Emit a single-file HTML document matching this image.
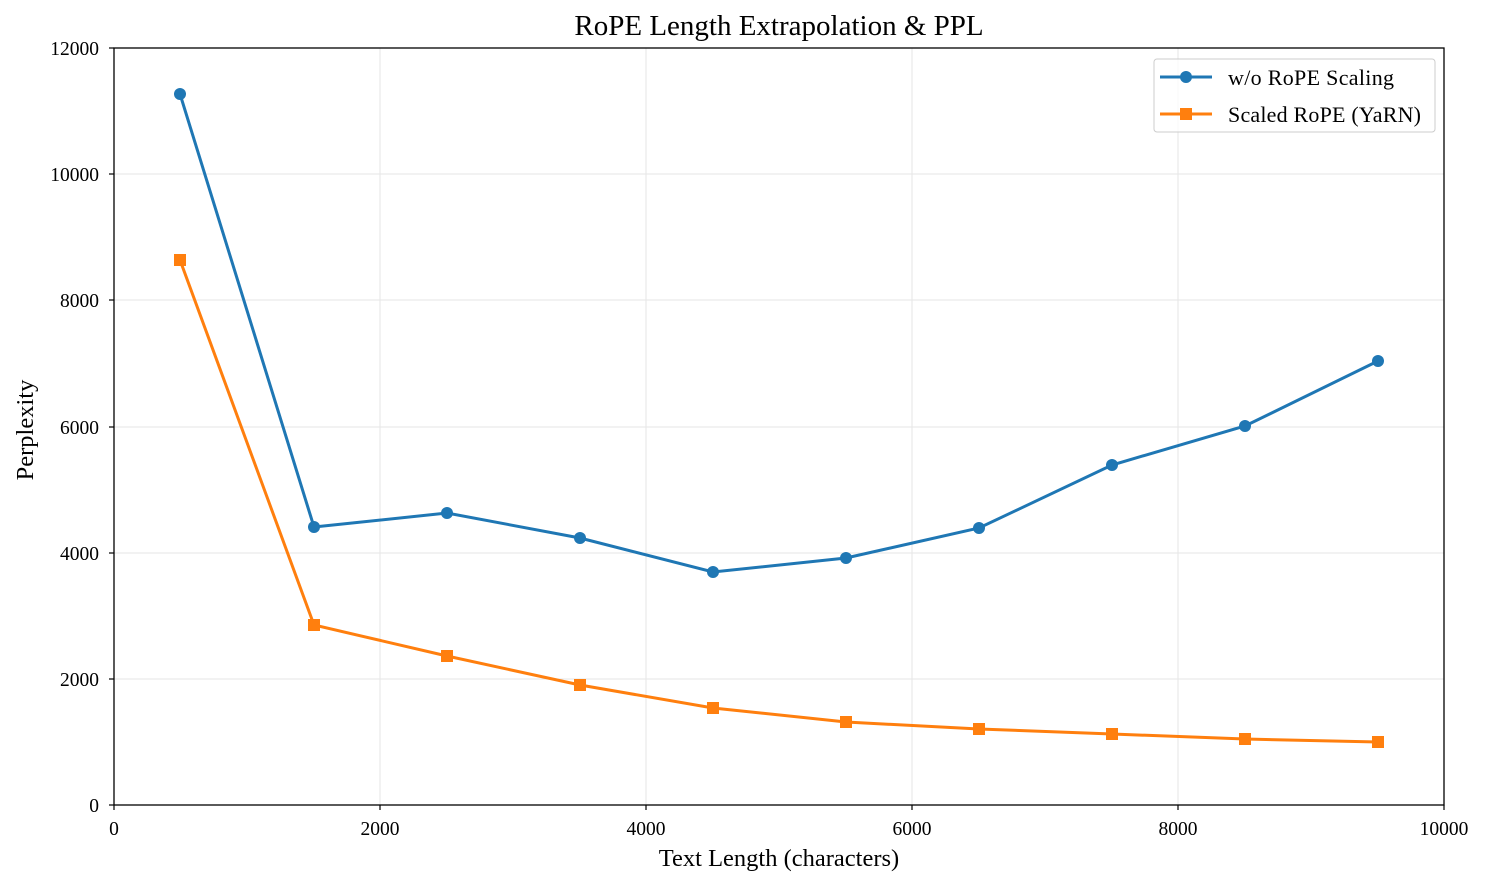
<!DOCTYPE html>
<html><head><style>body{margin:0;background:#fff}svg{display:block}text{font-family:"Liberation Serif",serif;fill:#000}</style></head><body>
<svg width="1486" height="887" viewBox="0 0 1486 887">
<g stroke="#e5e5e5" stroke-width="1">
<line x1="380" y1="48" x2="380" y2="805"/><line x1="646" y1="48" x2="646" y2="805"/><line x1="912" y1="48" x2="912" y2="805"/><line x1="1178" y1="48" x2="1178" y2="805"/>
<line x1="114" y1="679" x2="1444" y2="679"/><line x1="114" y1="553" x2="1444" y2="553"/><line x1="114" y1="427" x2="1444" y2="427"/><line x1="114" y1="300" x2="1444" y2="300"/><line x1="114" y1="174" x2="1444" y2="174"/>
</g>
<rect x="114" y="48" width="1330" height="757" fill="none" stroke="#000" stroke-width="1.3"/>
<g stroke="#000" stroke-width="1.2">
<line x1="114" y1="805" x2="114" y2="810"/><line x1="380" y1="805" x2="380" y2="810"/><line x1="646" y1="805" x2="646" y2="810"/><line x1="912" y1="805" x2="912" y2="810"/><line x1="1178" y1="805" x2="1178" y2="810"/><line x1="1444" y1="805" x2="1444" y2="810"/>
<line x1="109" y1="805" x2="114" y2="805"/><line x1="109" y1="679" x2="114" y2="679"/><line x1="109" y1="553" x2="114" y2="553"/><line x1="109" y1="427" x2="114" y2="427"/><line x1="109" y1="300" x2="114" y2="300"/><line x1="109" y1="174" x2="114" y2="174"/><line x1="109" y1="48" x2="114" y2="48"/>
</g>
<g font-size="19.5" text-anchor="middle">
<text x="114" y="835">0</text><text x="380" y="835">2000</text><text x="646" y="835">4000</text><text x="912" y="835">6000</text><text x="1178" y="835">8000</text><text x="1444" y="835">10000</text>
</g>
<g font-size="19.5" text-anchor="end">
<text x="99" y="812">0</text><text x="99" y="686">2000</text><text x="99" y="560">4000</text><text x="99" y="434">6000</text><text x="99" y="307">8000</text><text x="99" y="181">10000</text><text x="99" y="55">12000</text>
</g>
<text x="779" y="35" font-size="29" text-anchor="middle">RoPE Length Extrapolation &amp; PPL</text>
<text x="779" y="866" font-size="24.5" text-anchor="middle">Text Length (characters)</text>
<text transform="translate(33,430) rotate(-90)" font-size="24.5" text-anchor="middle">Perplexity</text>
<polyline fill="none" stroke="#1f77b4" stroke-width="3" points="180,94 314,527 447,513 580,538 713,572 846,558 979,528 1112,465 1245,426 1378,361"/>
<g fill="#1f77b4"><circle cx="180" cy="94" r="6"/><circle cx="314" cy="527" r="6"/><circle cx="447" cy="513" r="6"/><circle cx="580" cy="538" r="6"/><circle cx="713" cy="572" r="6"/><circle cx="846" cy="558" r="6"/><circle cx="979" cy="528" r="6"/><circle cx="1112" cy="465" r="6"/><circle cx="1245" cy="426" r="6"/><circle cx="1378" cy="361" r="6"/></g>
<polyline fill="none" stroke="#ff7f0e" stroke-width="3" points="180,260 314,625 447,656 580,685 713,708 846,722 979,729 1112,734 1245,739 1378,742"/>
<g fill="#ff7f0e"><rect x="174" y="254" width="12" height="12"/><rect x="308" y="619" width="12" height="12"/><rect x="441" y="650" width="12" height="12"/><rect x="574" y="679" width="12" height="12"/><rect x="707" y="702" width="12" height="12"/><rect x="840" y="716" width="12" height="12"/><rect x="973" y="723" width="12" height="12"/><rect x="1106" y="728" width="12" height="12"/><rect x="1239" y="733" width="12" height="12"/><rect x="1372" y="736" width="12" height="12"/></g>
<rect x="1154" y="59" width="281" height="73" rx="3" fill="#fff" fill-opacity="0.8" stroke="#ccc"/>
<line x1="1160" y1="77" x2="1212" y2="77" stroke="#1f77b4" stroke-width="3"/><circle cx="1186" cy="77" r="6" fill="#1f77b4"/>
<line x1="1160" y1="114" x2="1212" y2="114" stroke="#ff7f0e" stroke-width="3"/><rect x="1180" y="108" width="12" height="12" fill="#ff7f0e"/>
<text x="1228" y="85" font-size="22" textLength="166">w/o RoPE Scaling</text>
<text x="1228" y="122" font-size="22" textLength="193">Scaled RoPE (YaRN)</text>
</svg>
</body></html>
